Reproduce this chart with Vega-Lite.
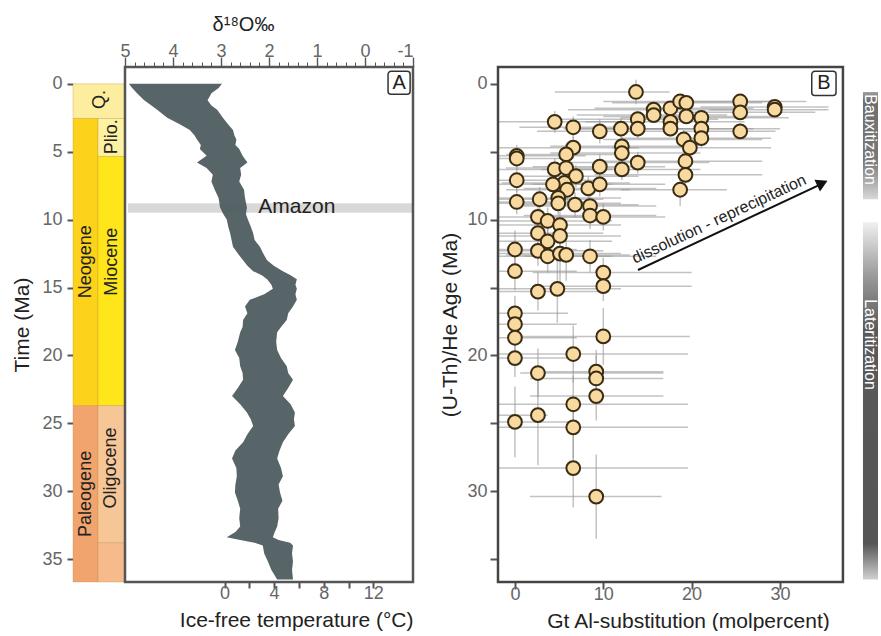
{
  "$schema": "https://vega.github.io/schema/vega-lite/v6.json",
  "background": "white",
  "padding": {"left": 11, "top": 14, "right": 2, "bottom": 0},
  "config": {
    "font": "Liberation Sans",
    "view": {"stroke": null},
    "axis": {"labelFontSize": 18, "labelColor": "#666666", "titleFontSize": 21, "titleColor": "#222222", "titleFontWeight": "normal", "tickColor": "#555555", "tickWidth": 2, "domain": false, "grid": false}
  },
  "datasets": {
    "timescale": [
      {"unit": "Q", "a0": 0, "a1": 2.55, "d0": 6.0833, "d1": 5.0, "fill": "#fcee9e"},
      {"unit": "Neogene", "a0": 2.55, "a1": 23.7, "d0": 6.0833, "d1": 5.5625, "fill": "#fcd21a"},
      {"unit": "Pliocene", "a0": 2.55, "a1": 5.35, "d0": 5.5625, "d1": 5.0, "fill": "#fdf1a2"},
      {"unit": "Miocene", "a0": 5.35, "a1": 23.7, "d0": 5.5625, "d1": 5.0, "fill": "#fee61a"},
      {"unit": "Paleogene", "a0": 23.7, "a1": 36.69, "d0": 6.0833, "d1": 5.5625, "fill": "#f2a46e"},
      {"unit": "Oligocene", "a0": 23.7, "a1": 33.8, "d0": 5.5625, "d1": 5.0, "fill": "#f7c697"},
      {"unit": "Eocene", "a0": 33.8, "a1": 36.69, "d0": 5.5625, "d1": 5.0, "fill": "#f6ba8b"}
    ],
    "tslabels": [
      {"label": "Q.", "d": 5.52, "a": 1.15},
      {"label": "Plio.", "d": 5.27, "a": 3.9},
      {"label": "Neogene", "d": 5.82, "a": 13.1},
      {"label": "Miocene", "d": 5.27, "a": 13.1},
      {"label": "Paleogene", "d": 5.82, "a": 30.2},
      {"label": "Oligocene", "d": 5.29, "a": 28.3}
    ],
    "envelope": [
      {"age": 0.0, "lo": 4.92, "hi": 2.98},
      {"age": 0.3, "lo": 4.85, "hi": 3.05},
      {"age": 0.7, "lo": 4.75, "hi": 3.2},
      {"age": 1.2, "lo": 4.6, "hi": 3.28},
      {"age": 1.6, "lo": 4.45, "hi": 3.2},
      {"age": 1.9, "lo": 4.33, "hi": 3.08},
      {"age": 2.5, "lo": 4.12, "hi": 2.96},
      {"age": 3.0, "lo": 3.85, "hi": 2.85},
      {"age": 3.4, "lo": 3.65, "hi": 2.75},
      {"age": 3.8, "lo": 3.55, "hi": 2.72},
      {"age": 4.1, "lo": 3.5, "hi": 2.68},
      {"age": 4.5, "lo": 3.42, "hi": 2.7},
      {"age": 4.8, "lo": 3.44, "hi": 2.62},
      {"age": 5.3, "lo": 3.3, "hi": 2.55},
      {"age": 5.8, "lo": 3.5, "hi": 2.45},
      {"age": 6.2, "lo": 3.3, "hi": 2.6},
      {"age": 6.7, "lo": 3.17, "hi": 2.58},
      {"age": 7.2, "lo": 3.2, "hi": 2.62},
      {"age": 7.8, "lo": 3.13, "hi": 2.52},
      {"age": 8.4, "lo": 3.05, "hi": 2.5},
      {"age": 9.1, "lo": 3.02, "hi": 2.46},
      {"age": 9.6, "lo": 2.95, "hi": 2.48},
      {"age": 10.0, "lo": 2.88, "hi": 2.44},
      {"age": 10.5, "lo": 2.85, "hi": 2.38},
      {"age": 11.0, "lo": 2.81, "hi": 2.33},
      {"age": 11.5, "lo": 2.78, "hi": 2.3},
      {"age": 12.0, "lo": 2.75, "hi": 2.19},
      {"age": 12.5, "lo": 2.65, "hi": 2.12},
      {"age": 13.0, "lo": 2.54, "hi": 2.04},
      {"age": 13.4, "lo": 2.45, "hi": 1.9},
      {"age": 13.8, "lo": 2.33, "hi": 1.71},
      {"age": 14.1, "lo": 2.15, "hi": 1.55},
      {"age": 14.4, "lo": 2.04, "hi": 1.42},
      {"age": 14.8, "lo": 1.95, "hi": 1.45},
      {"age": 15.1, "lo": 1.92, "hi": 1.42},
      {"age": 15.5, "lo": 2.1, "hi": 1.45},
      {"age": 15.9, "lo": 2.4, "hi": 1.42},
      {"age": 16.4, "lo": 2.5, "hi": 1.5},
      {"age": 16.9, "lo": 2.45, "hi": 1.6},
      {"age": 17.4, "lo": 2.54, "hi": 1.63},
      {"age": 17.9, "lo": 2.55, "hi": 1.75},
      {"age": 18.3, "lo": 2.6, "hi": 1.83},
      {"age": 19.0, "lo": 2.65, "hi": 1.85},
      {"age": 19.6, "lo": 2.71, "hi": 1.83},
      {"age": 20.2, "lo": 2.62, "hi": 1.75},
      {"age": 20.8, "lo": 2.6, "hi": 1.63},
      {"age": 21.3, "lo": 2.55, "hi": 1.6},
      {"age": 21.8, "lo": 2.54, "hi": 1.5},
      {"age": 22.4, "lo": 2.65, "hi": 1.6},
      {"age": 23.0, "lo": 2.77, "hi": 1.71},
      {"age": 23.6, "lo": 2.6, "hi": 1.55},
      {"age": 24.2, "lo": 2.46, "hi": 1.46},
      {"age": 24.7, "lo": 2.38, "hi": 1.48},
      {"age": 25.2, "lo": 2.33, "hi": 1.46},
      {"age": 25.8, "lo": 2.45, "hi": 1.6},
      {"age": 26.4, "lo": 2.54, "hi": 1.71},
      {"age": 27.0, "lo": 2.7, "hi": 1.78},
      {"age": 27.6, "lo": 2.77, "hi": 1.83},
      {"age": 28.3, "lo": 2.68, "hi": 1.75},
      {"age": 28.9, "lo": 2.67, "hi": 1.71},
      {"age": 29.5, "lo": 2.7, "hi": 1.8},
      {"age": 30.1, "lo": 2.71, "hi": 1.77},
      {"age": 30.7, "lo": 2.65, "hi": 1.72},
      {"age": 31.3, "lo": 2.6, "hi": 1.81},
      {"age": 32.0, "lo": 2.62, "hi": 1.8},
      {"age": 32.6, "lo": 2.6, "hi": 1.83},
      {"age": 33.0, "lo": 2.7, "hi": 1.88},
      {"age": 33.4, "lo": 2.88, "hi": 1.92},
      {"age": 33.6, "lo": 2.6, "hi": 1.8},
      {"age": 33.8, "lo": 2.3, "hi": 1.56},
      {"age": 34.0, "lo": 2.13, "hi": 1.5},
      {"age": 34.6, "lo": 2.1, "hi": 1.52},
      {"age": 35.2, "lo": 2.02, "hi": 1.5},
      {"age": 35.8, "lo": 1.95, "hi": 1.52},
      {"age": 36.5, "lo": 1.83, "hi": 1.5}
    ],
    "pts": [
      {"x": 13.7, "age": 0.6, "xlo": 4.5, "xhi": 17.5, "alo": -0.3, "ahi": 1.5},
      {"x": 4.5, "age": 2.8, "xlo": -1.9, "xhi": 12.5, "alo": 2.0, "ahi": 3.6},
      {"x": 6.6, "age": 3.2, "xlo": 0.5, "xhi": 13, "alo": 2.4, "ahi": 4.0},
      {"x": 9.6, "age": 3.5, "xlo": 2.5, "xhi": 17, "alo": 2.6, "ahi": 4.4},
      {"x": 12.0, "age": 3.3, "xlo": 5.5, "xhi": 19, "alo": 2.5, "ahi": 4.1},
      {"x": 13.9, "age": 2.6, "xlo": 5, "xhi": 23, "alo": 2.0, "ahi": 3.2},
      {"x": 13.9, "age": 3.3, "xlo": 6, "xhi": 22, "alo": 2.6, "ahi": 4.0},
      {"x": 15.7, "age": 1.9, "xlo": 6, "xhi": 25, "alo": 1.4, "ahi": 2.4},
      {"x": 15.7, "age": 2.3, "xlo": 7, "xhi": 24, "alo": 1.8, "ahi": 2.8},
      {"x": 17.6, "age": 1.8, "xlo": 9, "xhi": 27, "alo": 1.3, "ahi": 2.3},
      {"x": 17.6, "age": 2.8, "xlo": 8, "xhi": 26, "alo": 2.2, "ahi": 3.4},
      {"x": 17.6, "age": 3.3, "xlo": 9, "xhi": 27, "alo": 2.7, "ahi": 3.9},
      {"x": 18.7, "age": 1.3, "xlo": 10, "xhi": 30, "alo": 0.8, "ahi": 1.8},
      {"x": 19.4, "age": 1.4, "xlo": 11, "xhi": 28, "alo": 0.9, "ahi": 1.9},
      {"x": 19.4, "age": 2.4, "xlo": 10, "xhi": 29, "alo": 1.9, "ahi": 2.9},
      {"x": 19.1, "age": 4.1, "xlo": 10, "xhi": 28, "alo": 3.4, "ahi": 4.8},
      {"x": 19.8, "age": 4.7, "xlo": 11, "xhi": 29, "alo": 4.0, "ahi": 5.4},
      {"x": 19.3, "age": 5.7, "xlo": 10, "xhi": 28, "alo": 5.0, "ahi": 6.4},
      {"x": 19.3, "age": 6.7, "xlo": 9, "xhi": 28, "alo": 6.0, "ahi": 7.4},
      {"x": 18.7, "age": 7.8, "xlo": 12, "xhi": 24, "alo": 6.8, "ahi": 9.0},
      {"x": 21.1, "age": 2.5, "xlo": 12, "xhi": 31, "alo": 2.0, "ahi": 3.0},
      {"x": 21.1, "age": 3.3, "xlo": 13, "xhi": 30, "alo": 2.7, "ahi": 3.9},
      {"x": 21.1, "age": 4.0, "xlo": 12, "xhi": 29, "alo": 3.3, "ahi": 4.7},
      {"x": 25.5, "age": 1.3, "xlo": 18, "xhi": 33, "alo": 0.8, "ahi": 1.8},
      {"x": 25.5, "age": 2.1, "xlo": 17, "xhi": 34, "alo": 1.6, "ahi": 2.6},
      {"x": 25.5, "age": 3.5, "xlo": 19, "xhi": 29.5, "alo": 2.9, "ahi": 4.1},
      {"x": 29.4, "age": 1.7, "xlo": 21, "xhi": 35.5, "alo": 1.2, "ahi": 2.2},
      {"x": 29.4, "age": 1.9, "xlo": 22, "xhi": 35.5, "alo": 1.4, "ahi": 2.4},
      {"x": 12.1, "age": 4.6, "xlo": 4, "xhi": 20, "alo": 3.9, "ahi": 5.3},
      {"x": 12.1, "age": 5.1, "xlo": 4, "xhi": 21, "alo": 4.4, "ahi": 5.8},
      {"x": 12.1, "age": 6.3, "xlo": 3, "xhi": 21, "alo": 5.5, "ahi": 7.1},
      {"x": 13.9, "age": 5.8, "xlo": 6, "xhi": 22, "alo": 5.0, "ahi": 6.6},
      {"x": 0.2, "age": 5.3, "xlo": -1.9, "xhi": 8, "alo": 4.5, "ahi": 6.1},
      {"x": 0.2, "age": 5.5, "xlo": -1.9, "xhi": 6, "alo": 4.8, "ahi": 6.3},
      {"x": 0.2, "age": 7.1, "xlo": -1.9, "xhi": 9, "alo": 6.2, "ahi": 8.0},
      {"x": 0.2, "age": 8.7, "xlo": -1.9, "xhi": 8, "alo": 7.8, "ahi": 9.6},
      {"x": 6.6, "age": 4.7, "xlo": -1.9, "xhi": 14, "alo": 3.9, "ahi": 5.5},
      {"x": 5.8, "age": 5.2, "xlo": -1, "xhi": 13, "alo": 4.4, "ahi": 6.0},
      {"x": 4.5, "age": 6.3, "xlo": -1.9, "xhi": 11, "alo": 5.5, "ahi": 7.1},
      {"x": 5.8, "age": 6.2, "xlo": -1, "xhi": 13, "alo": 5.4, "ahi": 7.0},
      {"x": 6.9, "age": 6.8, "xlo": 0, "xhi": 14, "alo": 6.0, "ahi": 7.6},
      {"x": 9.6, "age": 6.1, "xlo": 2, "xhi": 17, "alo": 5.2, "ahi": 7.0},
      {"x": 5.6, "age": 7.3, "xlo": -1.5, "xhi": 13, "alo": 6.4, "ahi": 8.2},
      {"x": 4.3, "age": 7.4, "xlo": -1.9, "xhi": 11, "alo": 6.5, "ahi": 8.3},
      {"x": 5.9, "age": 7.8, "xlo": -1, "xhi": 13, "alo": 6.9, "ahi": 8.7},
      {"x": 4.9, "age": 8.4, "xlo": -1.9, "xhi": 12, "alo": 7.5, "ahi": 9.3},
      {"x": 4.9, "age": 8.8, "xlo": -1.9, "xhi": 12, "alo": 7.9, "ahi": 9.7},
      {"x": 6.8, "age": 8.9, "xlo": 0, "xhi": 14, "alo": 8.0, "ahi": 9.8},
      {"x": 2.8, "age": 8.5, "xlo": -1.9, "xhi": 10, "alo": 7.6, "ahi": 9.4},
      {"x": 8.3, "age": 7.7, "xlo": 1, "xhi": 16, "alo": 6.8, "ahi": 8.6},
      {"x": 9.6, "age": 7.4, "xlo": 2, "xhi": 17, "alo": 6.5, "ahi": 8.3},
      {"x": 8.5, "age": 9.0, "xlo": 1, "xhi": 16, "alo": 8.0, "ahi": 10.0},
      {"x": 8.5, "age": 9.7, "xlo": 1, "xhi": 16, "alo": 8.7, "ahi": 10.7},
      {"x": 10.0, "age": 9.8, "xlo": 3, "xhi": 17, "alo": 8.8, "ahi": 10.8},
      {"x": 2.6, "age": 9.8, "xlo": -1.9, "xhi": 10, "alo": 8.8, "ahi": 10.8},
      {"x": 3.7, "age": 10.1, "xlo": -1.9, "xhi": 11, "alo": 9.1, "ahi": 11.1},
      {"x": 5.1, "age": 10.4, "xlo": -1.9, "xhi": 12, "alo": 9.4, "ahi": 11.4},
      {"x": 2.6, "age": 11.0, "xlo": -1.9, "xhi": 10, "alo": 10.0, "ahi": 12.0},
      {"x": 3.7, "age": 11.6, "xlo": -1.9, "xhi": 11, "alo": 10.5, "ahi": 12.7},
      {"x": 5.1, "age": 11.2, "xlo": -1.9, "xhi": 12, "alo": 10.1, "ahi": 12.3},
      {"x": 0.0, "age": 12.2, "xlo": -1.9, "xhi": 7, "alo": 10.8, "ahi": 13.6},
      {"x": 2.6, "age": 12.3, "xlo": -1.9, "xhi": 10, "alo": 11.2, "ahi": 13.4},
      {"x": 3.7, "age": 12.7, "xlo": -1.9, "xhi": 11, "alo": 11.5, "ahi": 13.9},
      {"x": 5.1, "age": 12.5, "xlo": -1.9, "xhi": 12, "alo": 11.3, "ahi": 15.0},
      {"x": 5.8, "age": 12.6, "xlo": -1, "xhi": 13, "alo": 11.4, "ahi": 14.5},
      {"x": 8.5, "age": 12.7, "xlo": 1, "xhi": 16, "alo": 11.5, "ahi": 13.9},
      {"x": 0.0, "age": 13.8, "xlo": -1.9, "xhi": 7, "alo": 12.4, "ahi": 15.2},
      {"x": 10.0, "age": 13.9, "xlo": 2, "xhi": 20, "alo": 12.8, "ahi": 15.0},
      {"x": 10.0, "age": 14.9, "xlo": 2, "xhi": 20, "alo": 13.8, "ahi": 16.0},
      {"x": 2.6, "age": 15.3, "xlo": -1.9, "xhi": 10, "alo": 13.9, "ahi": 16.7},
      {"x": 4.8, "age": 15.1, "xlo": -1.9, "xhi": 12, "alo": 12.6, "ahi": 17.6},
      {"x": 0.0, "age": 16.9, "xlo": -1.9, "xhi": 6, "alo": 15.6, "ahi": 18.2},
      {"x": 0.0, "age": 17.7, "xlo": -1.9, "xhi": 7, "alo": 16.4, "ahi": 19.0},
      {"x": 0.0, "age": 18.7, "xlo": -1.9, "xhi": 7, "alo": 17.4, "ahi": 20.0},
      {"x": 10.0, "age": 18.6, "xlo": 0.6, "xhi": 19.8, "alo": 16.5, "ahi": 20.7},
      {"x": 6.6, "age": 19.9, "xlo": -1.9, "xhi": 19.6, "alo": 17.8, "ahi": 22.0},
      {"x": 0.0, "age": 20.2, "xlo": -1.9, "xhi": 7, "alo": 18.8, "ahi": 21.6},
      {"x": 2.6, "age": 21.3, "xlo": 0.6, "xhi": 16.8, "alo": 19.5, "ahi": 23.1},
      {"x": 9.2, "age": 21.2, "xlo": 1.7, "xhi": 16.8, "alo": 19.6, "ahi": 22.8},
      {"x": 9.2, "age": 21.7, "xlo": 1.7, "xhi": 16.8, "alo": 20.0, "ahi": 23.4},
      {"x": 9.2, "age": 23.0, "xlo": 1.7, "xhi": 16.8, "alo": 21.2, "ahi": 24.8},
      {"x": 6.6, "age": 23.6, "xlo": -1.9, "xhi": 19.6, "alo": 21.5, "ahi": 25.7},
      {"x": 2.6, "age": 24.4, "xlo": -1.9, "xhi": 3.7, "alo": 20.7, "ahi": 28.1},
      {"x": 0.0, "age": 24.9, "xlo": -1.9, "xhi": 7, "alo": 22.3, "ahi": 27.5},
      {"x": 6.6, "age": 25.3, "xlo": -1.9, "xhi": 19.6, "alo": 23.0, "ahi": 27.6},
      {"x": 6.6, "age": 28.3, "xlo": -1.9, "xhi": 19.6, "alo": 25.4, "ahi": 31.2},
      {"x": 9.2, "age": 30.4, "xlo": 1.7, "xhi": 16.6, "alo": 27.3, "ahi": 33.5}
    ]
  },
  "bounds": "flush",
  "spacing": 85,
  "hconcat": [
    {
      "width": 340,
      "height": 515,
      "layer": [
        {
          "layer": [
            {
              "data": {"name": "timescale"},
              "mark": {"type": "rect", "stroke": "#b98a3a", "strokeWidth": 0.5, "strokeOpacity": 0.6},
              "encoding": {
                "x": {"field": "d0", "type": "quantitative", "scale": {"domain": [-1, 6.0833], "reverse": true, "nice": false, "zero": false},
                  "axis": {"orient": "top", "title": "δ¹⁸O‰", "titleFontSize": 20, "titlePadding": 8, "labelOverlap": false,
                    "values": [5, 4, 3, 2, 1, 0, -1],
                    "labelExpr": "'' + datum.value",
                    "tickSize": 10, "tickWidth": 1.4, "labelPadding": -3}},
                "x2": {"field": "d1"},
                "y": {"field": "a0", "type": "quantitative", "scale": {"domain": [-1.24, 36.69], "reverse": true, "nice": false, "zero": false},
                  "axis": {"orient": "left", "title": "Time (Ma)", "values": [0, 5, 10, 15, 20, 25, 30, 35], "tickSize": 6, "labelPadding": 5, "titlePadding": 9}},
                "y2": {"field": "a1"},
                "color": {"field": "fill", "type": "nominal", "scale": null, "legend": null}
              }
            },
            {
              "data": {"values": [{"d0": 4.94, "d1": -1, "a0": 8.8, "a1": 9.5}]},
              "mark": {"type": "rect", "color": "#d9d9d9"},
              "encoding": {
                "x": {"field": "d0", "type": "quantitative"},
                "x2": {"field": "d1"},
                "y": {"field": "a0", "type": "quantitative"},
                "y2": {"field": "a1"}
              }
            },
            {
              "data": {"name": "envelope"},
              "mark": {"type": "area", "orient": "horizontal", "color": "#4e5d61", "opacity": 0.95},
              "encoding": {
                "y": {"field": "age", "type": "quantitative"},
                "x": {"field": "lo", "type": "quantitative"},
                "x2": {"field": "hi"}
              }
            },
            {
              "data": {"values": [{"d": 1.42, "a": 9.05, "label": "Amazon"}]},
              "mark": {"type": "text", "fontSize": 21, "color": "#222222"},
              "encoding": {
                "x": {"field": "d", "type": "quantitative"},
                "y": {"field": "a", "type": "quantitative"},
                "text": {"field": "label"}
              }
            },
            {
              "data": {"name": "tslabels"},
              "mark": {"type": "text", "fontSize": 18, "angle": 270, "color": "#222222"},
              "encoding": {
                "x": {"field": "d", "type": "quantitative"},
                "y": {"field": "a", "type": "quantitative"},
                "text": {"field": "label"}
              }
            },
            {
              "data": {"values": [{"d0": 5, "d1": -1, "a0": -1.24, "a1": 36.69}]},
              "mark": {"type": "rect", "filled": false, "stroke": "#555555", "strokeWidth": 2.5},
              "encoding": {
                "x": {"field": "d0", "type": "quantitative"},
                "x2": {"field": "d1"},
                "y": {"field": "a0", "type": "quantitative"},
                "y2": {"field": "a1"}
              }
            },
            {
              "data": {"values": [{"d0": -0.48, "d1": -0.94, "a0": -0.92, "a1": 0.77}]},
              "mark": {"type": "rect", "fill": "white", "stroke": "#333333", "strokeWidth": 1.5, "cornerRadius": 3},
              "encoding": {
                "x": {"field": "d0", "type": "quantitative"},
                "x2": {"field": "d1"},
                "y": {"field": "a0", "type": "quantitative"},
                "y2": {"field": "a1"}
              }
            },
            {
              "data": {"values": [{"d": -0.71, "a": -0.07, "label": "A"}]},
              "mark": {"type": "text", "fontSize": 20, "color": "#222222"},
              "encoding": {
                "x": {"field": "d", "type": "quantitative"},
                "y": {"field": "a", "type": "quantitative"},
                "text": {"field": "label"}
              }
            }
          ]
        },
        {
          "data": {"values": [{"t": 0}]},
          "mark": {"type": "point", "opacity": 0},
          "encoding": {
            "x": {"field": "t", "type": "quantitative", "scale": {"domain": [-12.22, 15.2], "nice": false, "zero": false},
              "axis": {"orient": "bottom", "title": "Ice-free temperature (°C)", "titleAnchor": "end", "values": [0, 2, 4, 6, 8, 10, 12], "labelOverlap": false,
                "labelExpr": "datum.value % 4 === 0 ? datum.label : ''", "tickSize": 6, "labelPadding": -4, "titlePadding": 7}}
          }
        },
        {
          "data": {"values": [{"m": 5}]},
          "mark": {"type": "point", "opacity": 0},
          "encoding": {
            "x": {"field": "m", "type": "quantitative", "scale": {"domain": [-1, 6.0833], "reverse": true, "nice": false, "zero": false},
              "axis": {"orient": "top", "title": null, "labels": false, "tickSize": 5, "tickWidth": 1,
                "values": [4.8, 4.6, 4.4, 4.2, 3.8, 3.6, 3.4, 3.2, 2.8, 2.6, 2.4, 2.2, 1.8, 1.6, 1.4, 1.2, 0.8, 0.6, 0.4, 0.2, -0.2, -0.4, -0.6, -0.8]}}
          }
        }
      ],
      "resolve": {"scale": {"x": "independent"}, "axis": {"x": "independent"}}
    },
    {
      "width": 380,
      "height": 515,
      "layer": [
        {
          "data": {"name": "pts"},
          "mark": {"type": "rule", "color": "#9a9a9a", "strokeWidth": 1.5, "opacity": 0.6},
          "encoding": {
            "x": {"field": "xlo", "type": "quantitative", "scale": {"domain": [-1.92, 41.1], "nice": false, "zero": false},
              "axis": {"title": "Gt Al-substitution (molpercent)", "values": [0, 10, 20, 30], "tickSize": 7, "labelPadding": -4, "titlePadding": 7}},
            "x2": {"field": "xhi"},
            "y": {"field": "age", "type": "quantitative", "scale": {"domain": [-1.24, 36.69], "reverse": true, "nice": false, "zero": false},
              "axis": {"title": "(U-Th)/He Age (Ma)", "values": [0, 5, 10, 15, 20, 25, 30, 35], "labelOverlap": false, "labelExpr": "datum.value % 10 === 0 ? datum.label : ''", "tickSize": 8, "labelPadding": 3, "titlePadding": 6}}
          }
        },
        {
          "data": {"name": "pts"},
          "mark": {"type": "rule", "color": "#9a9a9a", "strokeWidth": 1.5, "opacity": 0.6},
          "encoding": {
            "x": {"field": "x", "type": "quantitative"},
            "y": {"field": "alo", "type": "quantitative"},
            "y2": {"field": "ahi"}
          }
        },
        {
          "data": {"name": "pts"},
          "mark": {"type": "circle", "size": 190, "fill": "#f8d9a0", "stroke": "#3a2c12", "strokeWidth": 2, "opacity": 1},
          "encoding": {
            "x": {"field": "x", "type": "quantitative"},
            "y": {"field": "age", "type": "quantitative"}
          }
        },
        {
          "data": {"values": [{"x0": -1.92, "x1": 37.13, "a0": -1.24, "a1": 36.69}]},
          "mark": {"type": "rect", "filled": false, "stroke": "#444444", "strokeWidth": 2.5},
          "encoding": {
            "x": {"field": "x0", "type": "quantitative"},
            "x2": {"field": "x1"},
            "y": {"field": "a0", "type": "quantitative"},
            "y2": {"field": "a1"}
          }
        },
        {
          "data": {"values": [{"x0": 33.6, "x1": 36.35, "a0": -0.92, "a1": 0.85}]},
          "mark": {"type": "rect", "fill": "white", "stroke": "#333333", "strokeWidth": 1.5, "cornerRadius": 3},
          "encoding": {
            "x": {"field": "x0", "type": "quantitative"},
            "x2": {"field": "x1"},
            "y": {"field": "a0", "type": "quantitative"},
            "y2": {"field": "a1"}
          }
        },
        {
          "data": {"values": [{"x": 34.97, "a": -0.03, "label": "B"}]},
          "mark": {"type": "text", "fontSize": 20, "color": "#222222"},
          "encoding": {
            "x": {"field": "x", "type": "quantitative"},
            "y": {"field": "a", "type": "quantitative"},
            "text": {"field": "label"}
          }
        },
        {
          "data": {"values": [{"x0": 13.93, "a0": 13.71, "x1": 34.3, "a1": 7.49}]},
          "mark": {"type": "rule", "color": "#111111", "strokeWidth": 2},
          "encoding": {
            "x": {"field": "x0", "type": "quantitative"},
            "x2": {"field": "x1"},
            "y": {"field": "a0", "type": "quantitative"},
            "y2": {"field": "a1"}
          }
        },
        {
          "data": {"values": [{"x": 34.8, "a": 7.32}]},
          "mark": {"type": "point", "shape": "triangle-right", "angle": 335, "size": 170, "filled": true, "color": "#111111", "opacity": 1},
          "encoding": {
            "x": {"field": "x", "type": "quantitative"},
            "y": {"field": "a", "type": "quantitative"}
          }
        },
        {
          "data": {"values": [{"x": 23.1, "a": 9.96, "label": "dissolution - reprecipitation"}]},
          "mark": {"type": "text", "fontSize": 16, "angle": 335, "color": "#222222"},
          "encoding": {
            "x": {"field": "x", "type": "quantitative"},
            "y": {"field": "a", "type": "quantitative"},
            "text": {"field": "label"}
          }
        },
        {
          "data": {"values": [{"x0": 39.4, "x1": 41.1, "a0": 0.6, "a1": 8.5}]},
          "mark": {"type": "rect", "fill": {"gradient": "linear", "x1": 0, "y1": 0, "x2": 0, "y2": 1, "stops": [{"offset": 0, "color": "#a0a0a0"}, {"offset": 0.08, "color": "#6e6e6e"}, {"offset": 0.65, "color": "#7a7a7a"}, {"offset": 1, "color": "#d8d8d8"}]}},
          "encoding": {
            "x": {"field": "x0", "type": "quantitative"},
            "x2": {"field": "x1"},
            "y": {"field": "a0", "type": "quantitative"},
            "y2": {"field": "a1"}
          }
        },
        {
          "data": {"values": [{"x0": 39.4, "x1": 41.1, "a0": 10.2, "a1": 36.5}]},
          "mark": {"type": "rect", "fill": {"gradient": "linear", "x1": 0, "y1": 0, "x2": 0, "y2": 1, "stops": [{"offset": 0, "color": "#f0f0f0"}, {"offset": 0.15, "color": "#9a9a9a"}, {"offset": 0.3, "color": "#5a5a5a"}, {"offset": 0.9, "color": "#555555"}, {"offset": 1, "color": "#d0d0d0"}]}},
          "encoding": {
            "x": {"field": "x0", "type": "quantitative"},
            "x2": {"field": "x1"},
            "y": {"field": "a0", "type": "quantitative"},
            "y2": {"field": "a1"}
          }
        },
        {
          "data": {"values": [{"x": 40.25, "a": 4.1, "label": "Bauxitization"}, {"x": 40.25, "a": 19.2, "label": "Lateritization"}]},
          "mark": {"type": "text", "fontSize": 16, "angle": 90, "color": "white"},
          "encoding": {
            "x": {"field": "x", "type": "quantitative"},
            "y": {"field": "a", "type": "quantitative"},
            "text": {"field": "label"}
          }
        }
      ]
    }
  ]
}
